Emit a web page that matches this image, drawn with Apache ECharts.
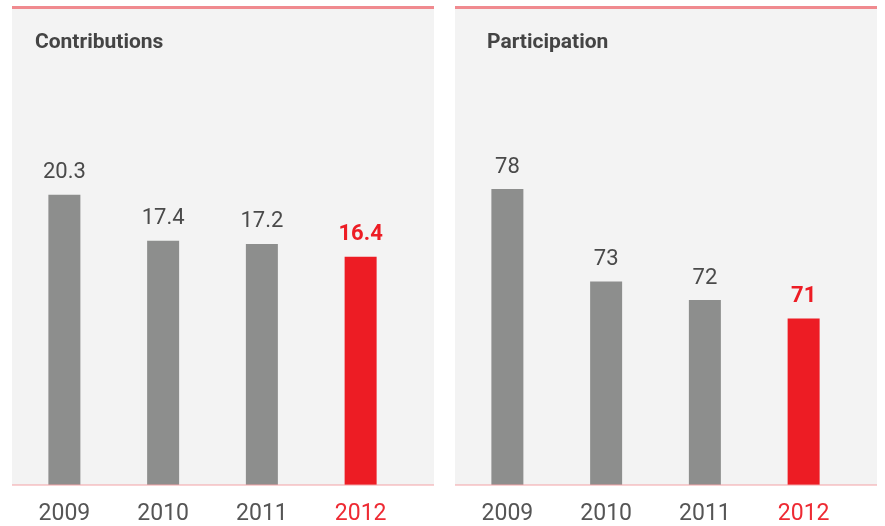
<!DOCTYPE html>
<html>
<head>
<meta charset="utf-8">
<script src="https://cdn.jsdelivr.net/npm/echarts@6/dist/echarts.min.js"></script>
<style>
  html, body { margin: 0; padding: 0; background: #ffffff; }
  #chart { width: 885px; height: 526px; }
</style>
</head>
<body>
<div id="chart"></div>
<script>
// Yearly figures for the two panels
const years = ['2009', '2010', '2011', '2012'];
const contributions = [20.3, 17.4, 17.2, 16.4];
const participation = [78, 73, 72, 71];
const panelTitles = ['Contributions', 'Participation'];

const GREY_BAR = '#8d8e8d';
const RED = '#ed1c24';
const NUM_FONT = "'Roboto', sans-serif";
const lastIdx = years.length - 1;

function barData(values) {
  return values.map((v, i) => i === lastIdx
    ? { value: v, itemStyle: { color: RED },
        label: { color: RED, fontWeight: 'bold' } }
    : { value: v });
}

function panelDecor(x, w) {
  return [
    { type: 'rect', shape: { x: x, y: 9, width: w, height: 476 },
      style: { fill: '#f3f3f3' }, z: -10 },
    { type: 'rect', shape: { x: x, y: 6, width: w, height: 3 },
      style: { fill: '#f08a8f' }, z: -9 },
    { type: 'rect', shape: { x: x, y: 484.5, width: w, height: 1 },
      style: { fill: '#f4a2a6' }, z: 5 }
  ];
}

const chart = echarts.init(document.getElementById('chart'), null, { renderer: 'canvas' });

const xAxisCommon = {
  type: 'category',
  data: years,
  axisLine: { show: false },
  axisTick: { show: false },
  axisLabel: {
    margin: 18,
    fontFamily: NUM_FONT,
    fontSize: 23,
    color: (val, idx) => (idx === lastIdx ? '#ee2a33' : '#555555')
  }
};

const yAxisCommon = {
  type: 'value',
  show: false,
  splitLine: { show: false }
};

const seriesLabel = {
  show: true,
  position: 'top',
  distance: 11,
  fontFamily: NUM_FONT,
  fontSize: 22,
  color: '#4a4a4a'
};

const titleStyle = { fontFamily: 'Roboto', fontWeight: 'bold', fontSize: 21, color: '#444444' };

chart.setOption({
  animation: false,
  backgroundColor: '#ffffff',
  graphic: [...panelDecor(12, 422), ...panelDecor(455, 422)],
  title: [
    { text: panelTitles[0], left: 35, top: 32, padding: 0, textStyle: titleStyle },
    { text: panelTitles[1], left: 487, top: 32, padding: 0, textStyle: titleStyle }
  ],
  grid: [
    { left: 15, width: 395, top: 41, bottom: 41 },
    { left: 458, width: 395, top: 41, bottom: 41 }
  ],
  xAxis: [
    Object.assign({ gridIndex: 0 }, xAxisCommon),
    Object.assign({ gridIndex: 1 }, xAxisCommon)
  ],
  yAxis: [
    Object.assign({ gridIndex: 0, min: 2, max: 30 }, yAxisCommon),
    Object.assign({ gridIndex: 1, min: 62, max: 86 }, yAxisCommon)
  ],
  series: [
    { type: 'bar', xAxisIndex: 0, yAxisIndex: 0, barWidth: 32,
      itemStyle: { color: GREY_BAR }, label: seriesLabel,
      data: barData(contributions) },
    { type: 'bar', xAxisIndex: 1, yAxisIndex: 1, barWidth: 32,
      itemStyle: { color: GREY_BAR }, label: seriesLabel,
      data: barData(participation) }
  ]
});
</script>
</body>
</html>
